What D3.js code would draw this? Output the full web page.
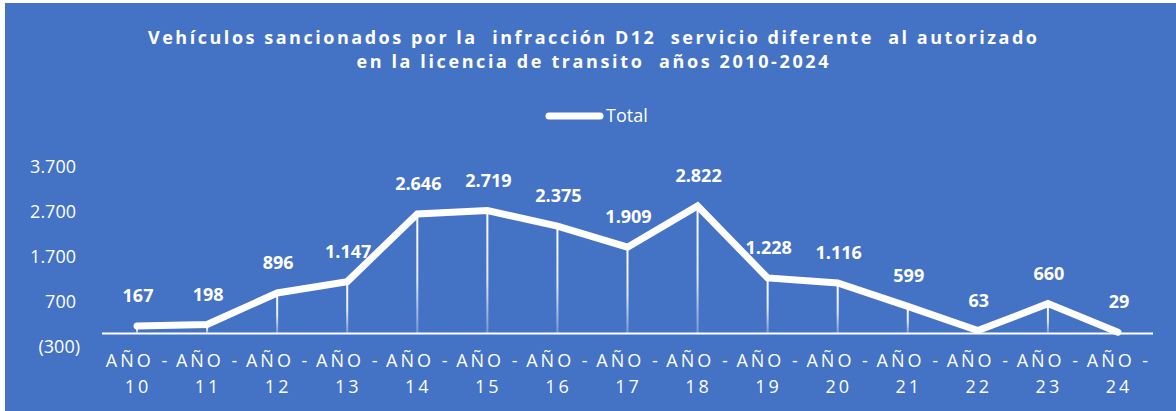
<!DOCTYPE html>
<html>
<head>
<meta charset="utf-8">
<script src="https://cdn.jsdelivr.net/npm/d3@7"></script>
<style>
  body { margin: 0; background: #fff; }
  svg { display: block; }
  text { font-family: "Open Sans", sans-serif; fill: #fff; }
</style>
</head>
<body>
<div id="chart"></div>
<script>
const w = 1176;
const h = 411;

const years = ["10", "11", "12", "13", "14", "15", "16", "17", "18", "19", "20", "21", "22", "23", "24"];
const totals = [167, 198, 896, 1147, 2646, 2719, 2375, 1909, 2822, 1228, 1116, 599, 63, 660, 29];
const yTicks = [-300, 700, 1700, 2700, 3700];
const titleLines = [
    "Vehículos sancionados por la  infracción D12  servicio diferente  al autorizado",
    "en la licencia de transito  años 2010-2024"
];
const seriesName = "Total";

const svg = d3.select("#chart")
    .append("svg")
    .attr("width", w)
    .attr("height", h);

svg.append("rect")
    .attr("x", 5)
    .attr("y", 3)
    .attr("width", w - 5)
    .attr("height", h - 3)
    .attr("fill", "#4472C4");

// gradient for the drop lines
const grad = svg.append("defs").append("linearGradient")
    .attr("id", "drop")
    .attr("x1", 0).attr("y1", 0)
    .attr("x2", 0).attr("y2", 1);
grad.append("stop").attr("offset", "0%").attr("stop-color", "#fff").attr("stop-opacity", 1);
grad.append("stop").attr("offset", "55%").attr("stop-color", "#fff").attr("stop-opacity", 0.85);
grad.append("stop").attr("offset", "100%").attr("stop-color", "#fff").attr("stop-opacity", 0.25);

// title
svg.selectAll(".title")
    .data(titleLines)
    .enter()
    .append("text")
    .attr("class", "title")
    .attr("x", 592.5)
    .attr("y", (d, i) => 44 + i * 24)
    .attr("text-anchor", "middle")
    .attr("textLength", (d, i) => i === 0 ? 889 : 472)
    .attr("lengthAdjust", "spacing")
    .style("white-space", "pre")
    .style("font-weight", "bold")
    .style("font-size", "18px")
    .text(d => d);

// legend
svg.append("line")
    .attr("x1", 549).attr("x2", 600)
    .attr("y1", 116).attr("y2", 116)
    .attr("stroke", "#fff")
    .attr("stroke-width", 7)
    .attr("stroke-linecap", "round");
svg.append("text")
    .attr("x", 606)
    .attr("y", 122)
    .style("font-size", "18px")
    .text(seriesName);

const x = d3.scaleBand()
    .domain(years)
    .range([102, 1153]);

const y = d3.scaleLinear()
    .domain([-300, 3700])
    .range([347, 166.3]);

const cx = d => x(d) + x.bandwidth() / 2;

// y tick labels
svg.selectAll(".ytick")
    .data(yTicks)
    .enter()
    .append("text")
    .attr("class", "ytick")
    .attr("x", d => d < 0 ? 80 : 76)
    .attr("y", d => y(d))
    .attr("dy", "0.36em")
    .attr("text-anchor", "end")
    .style("font-size", "18px")
    .text(d => d < 0 ? "(" + d3.format(",")(-d).replace(/,/g, ".") + ")" : d3.format(",")(d).replace(/,/g, "."));

// drop lines
svg.selectAll(".drop")
    .data(years)
    .enter()
    .append("rect")
    .attr("class", "drop")
    .attr("x", d => cx(d) - 1)
    .attr("y", (d, i) => y(totals[i]))
    .attr("width", 2)
    .attr("height", (d, i) => Math.max(0, y(0) - y(totals[i])))
    .attr("fill", "url(#drop)");

// baseline axis
svg.append("line")
    .attr("x1", x.range()[0])
    .attr("x2", x.range()[1])
    .attr("y1", y(0))
    .attr("y2", y(0))
    .attr("stroke", "#fff")
    .attr("stroke-width", 2);

// x labels
const xl = svg.selectAll(".xlab")
    .data(years)
    .enter()
    .append("text")
    .attr("class", "xlab")
    .attr("text-anchor", "middle")
    .style("font-size", "18px")
    .style("letter-spacing", "3px");
xl.append("tspan")
    .attr("x", d => cx(d) + 1)
    .attr("y", 367)
    .text("AÑO -");
xl.append("tspan")
    .attr("x", d => cx(d) + 1)
    .attr("y", 393)
    .text(d => d);

// the line
const line = d3.line()
    .x((d, i) => cx(years[i]))
    .y(d => y(d));

svg.append("path")
    .datum(totals)
    .attr("d", line)
    .attr("fill", "none")
    .attr("stroke", "#fff")
    .attr("stroke-width", 7)
    .attr("stroke-linecap", "round")
    .attr("stroke-linejoin", "miter");

// data labels
svg.selectAll(".vlab")
    .data(totals)
    .enter()
    .append("text")
    .attr("class", "vlab")
    .attr("x", (d, i) => cx(years[i]) + 1)
    .attr("y", d => y(d) - 24)
    .attr("text-anchor", "middle")
    .style("font-size", "18px")
    .style("font-weight", "bold")
    .text(d => d3.format(",")(d).replace(/,/g, "."));
</script>
</body>
</html>
